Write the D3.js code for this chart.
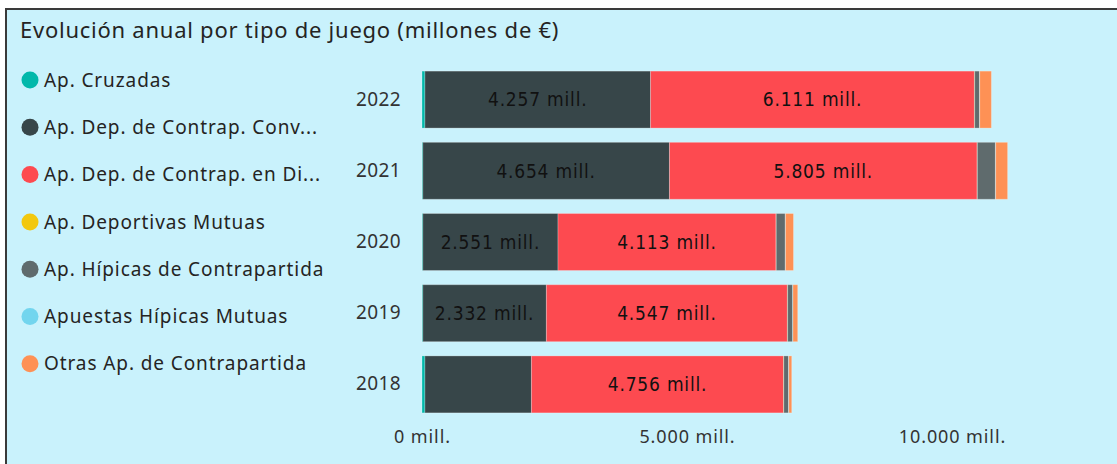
<!DOCTYPE html>
<html><head><meta charset="utf-8">
<script src="https://cdn.jsdelivr.net/npm/d3@7/dist/d3.min.js"></script>
<style>body{margin:0;background:#fff;overflow:hidden}</style>
</head><body><svg id="c" width="1117" height="464"></svg>
<script>
const title = "Evolución anual por tipo de juego (millones de €)";
const years = ["2022","2021","2020","2019","2018"];
const seriesNames = ["Ap. Cruzadas","Ap. Dep. de Contrap. Conv...","Ap. Dep. de Contrap. en Di...","Ap. Deportivas Mutuas","Ap. Hípicas de Contrapartida","Apuestas Hípicas Mutuas","Otras Ap. de Contrapartida"];
const seriesColors = ["#01b8aa","#374649","#fd4a50","#f2c80f","#5f6b6d","#72d5ee","#fe9155"];
// values per series, in order of years
const cruzadas   = [55, 15, 15, 15, 55];
const depConv    = [4257, 4654, 2551, 2332, 2010];
const depDirecto = [6111, 5805, 4113, 4547, 4756];
const depMutuas  = [5, 5, 5, 5, 5];
const hipContra  = [90, 340, 170, 95, 90];
const hipMutuas  = [5, 5, 5, 5, 5];
const otras      = [220, 225, 150, 90, 55];
const tickValues = [0, 5000, 10000];
const tickLabels = ["0 mill.","5.000 mill.","10.000 mill."];

const seriesValues = [cruzadas, depConv, depDirecto, depMutuas, hipContra, hipMutuas, otras];
const table = years.map((y,i)=>{const o={year:y}; seriesNames.forEach((s,j)=>o[s]=seriesValues[j][i]); return o;});

const FONT = "Noto Sans, Open Sans, sans-serif";
const svg = d3.select("#c");
svg.append("rect").attr("x",6).attr("y",9).attr("width",1125).attr("height",470)
  .attr("fill","#c9f2fc").attr("stroke","#3a3a3a").attr("stroke-width",2);
svg.append("text").attr("x",20).attr("y",38).attr("font-family",FONT)
  .attr("font-size",22).attr("letter-spacing",0.75).attr("fill","#252423").text(title);

// legend
const lg = svg.append("g");
seriesNames.forEach((s,i)=>{
  const y = 80 + i*47.3;
  lg.append("circle").attr("cx",30).attr("cy",y).attr("r",8.5).attr("fill",seriesColors[i]);
  lg.append("text").attr("x",44).attr("y",y).attr("dy","0.35em").attr("font-family",FONT)
    .attr("font-size",19).attr("letter-spacing",0.9).attr("fill","#252423").text(s);
});

const x = d3.scaleLinear().domain([0,10000]).range([422,952]);
const y = d3.scaleBand().domain(years).range([64,420]).paddingInner(0.2).paddingOuter(0.1);

const stack = d3.stack().keys(seriesNames)(table);
const g = svg.append("g");
stack.forEach((layer,j)=>{
  g.selectAll(null).data(layer).enter().append("rect")
    .attr("x",d=>x(d[0])).attr("width",d=>Math.max(0,x(d[1])-x(d[0])))
    .attr("y",d=>y(d.data.year)).attr("height",y.bandwidth())
    .attr("fill",seriesColors[j]).attr("stroke","rgba(255,255,255,0.25)").attr("stroke-width",1);
});
// data labels
const fmt = v=>d3.format(",")(v).replace(/,/g,".")+" mill.";
[1,2].forEach(j=>{
  stack[j].forEach(d=>{
    const w = x(d[1])-x(d[0]);
    const t = fmt(d[1]-d[0]);
    if (w < 115) return;
    g.append("text").attr("x",(x(d[0])+x(d[1]))/2).attr("y",y(d.data.year)+y.bandwidth()/2)
      .attr("dy","0.36em").attr("text-anchor","middle").attr("font-family","DejaVu Sans Condensed, DejaVu Sans, sans-serif")
      .attr("font-size",19).attr("letter-spacing",0.8).attr("fill","#111").text(t);
  });
});

// y axis labels
const ya = svg.append("g").attr("transform","translate(401,0)")
  .call(d3.axisLeft(y).tickSize(0).tickPadding(0));
ya.select(".domain").remove();
ya.selectAll("text").attr("font-family",FONT).attr("font-size",19).attr("letter-spacing",0.4).attr("fill","#333");

// x axis
const xa = svg.append("g").attr("transform","translate(0,430)")
  .call(d3.axisBottom(x).tickValues(tickValues).tickFormat((d,i)=>tickLabels[i]).tickSize(0).tickPadding(0));
xa.select(".domain").remove();
xa.selectAll("text").attr("font-family",FONT).attr("font-size",18).attr("letter-spacing",0.9).attr("fill","#333").attr("dy","0.71em");
</script></body></html>
